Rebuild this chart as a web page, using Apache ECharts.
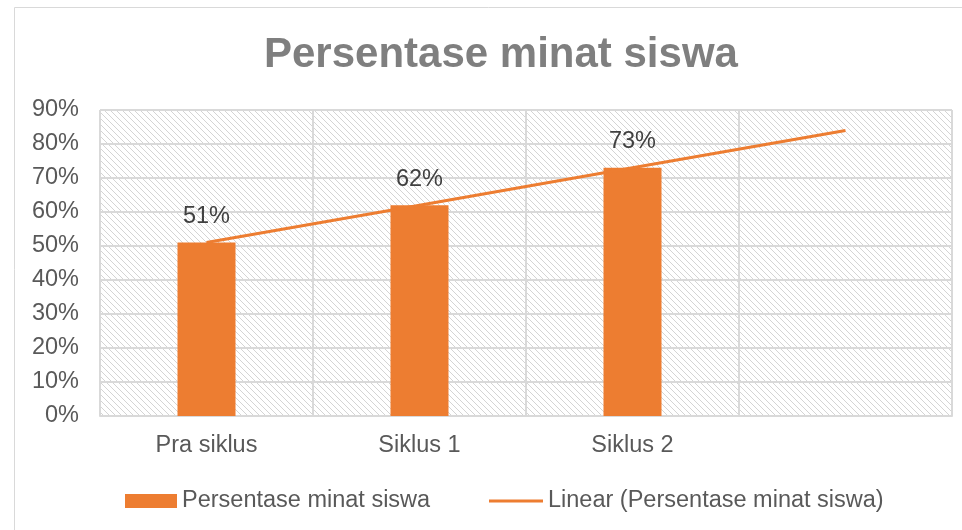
<!DOCTYPE html>
<html>
<head>
<meta charset="utf-8">
<script src="https://cdn.jsdelivr.net/npm/echarts@6/dist/echarts.min.js"></script>
<style>
  html,body{margin:0;padding:0;background:#fff;}
  #main{width:962px;height:530px;}
</style>
</head>
<body>
<div id="main"></div>
<script>
  // data
  const categories = ['Pra siklus', 'Siklus 1', 'Siklus 2', ''];
  const minatValues = [51, 62, 73, null];
  const trendValues = [51, 62, 73, 84];
  const barName = 'Persentase minat siswa';
  const trendName = 'Linear (Persentase minat siswa)';

  // diagonal hatch for the plot area
  function hatch(){
    let c = document.createElement('canvas');
    c.width = 6; c.height = 6;
    let ctx = c.getContext('2d');
    ctx.fillStyle = '#fff';
    ctx.fillRect(0, 0, 6, 6);
    ctx.strokeStyle = '#d4d4d4';
    ctx.lineWidth = 1;
    ctx.beginPath();
    ctx.moveTo(-1, -1); ctx.lineTo(7, 7);
    ctx.moveTo(-4, 2); ctx.lineTo(4, 10);
    ctx.moveTo(2, -4); ctx.lineTo(10, 4);
    ctx.stroke();
    return c;
  }

  let myChart = echarts.init(document.getElementById('main'));
  let font = 'Liberation Sans, Arial, sans-serif';
  let fs = 23.5;
  let option = {
    animation: false,
    graphic: [{
      type: 'rect',
      shape: {x: 14.5, y: 7.5, width: 1000, height: 600},
      style: {fill: 'none', stroke: '#d9d9d9', lineWidth: 1},
      silent: true
    }],
    title: {
      text: 'Persentase minat siswa',
      left: 259,
      top: 29,
      textStyle: {color: '#7f7f7f', fontSize: 42, fontWeight: 'bold', fontFamily: font}
    },
    legend: [{
      data: [barName],
      left: 120,
      top: 484,
      icon: 'rect',
      itemWidth: 52,
      itemHeight: 14,
      itemGap: 6,
      textStyle: {color: '#595959', fontSize: fs, fontFamily: font}
    }, {
      data: [{name: trendName, icon: 'rect'}],
      left: 484,
      top: 484,
      itemWidth: 54,
      itemHeight: 3,
      textStyle: {color: '#595959', fontSize: fs, fontFamily: font}
    }],
    grid: {
      left: 100,
      right: 10,
      top: 110,
      bottom: 114,
      show: true,
      borderWidth: 0,
      backgroundColor: {image: hatch(), repeat: 'repeat'}
    },
    xAxis: {
      type: 'category',
      data: categories,
      boundaryGap: true,
      axisLine: {lineStyle: {color: '#d9d9d9', width: 2}},
      axisTick: {show: false},
      splitLine: {show: true, lineStyle: {color: '#d9d9d9', width: 2}},
      axisLabel: {color: '#595959', fontSize: fs, fontFamily: font, margin: 18}
    },
    yAxis: {
      type: 'value',
      min: 0,
      max: 90,
      interval: 10,
      axisLine: {show: false},
      axisTick: {show: false},
      axisLabel: {color: '#595959', fontSize: fs, fontFamily: font, margin: 21, formatter: '{value}%'},
      splitLine: {lineStyle: {color: '#d9d9d9', width: 2}}
    },
    series: [{
      name: barName,
      type: 'bar',
      data: minatValues,
      barWidth: 58,
      itemStyle: {color: '#ED7D31'},
      label: {
        show: true,
        position: 'top',
        distance: 14,
        formatter: '{c}%',
        color: '#404040',
        fontSize: fs,
        fontFamily: font
      }
    }, {
      name: trendName,
      type: 'line',
      data: trendValues,
      symbol: 'none',
      z: 3,
      lineStyle: {color: '#ED7D31', width: 3},
      itemStyle: {color: '#ED7D31'}
    }]
  };
  myChart.setOption(option);
</script>
</body>
</html>
